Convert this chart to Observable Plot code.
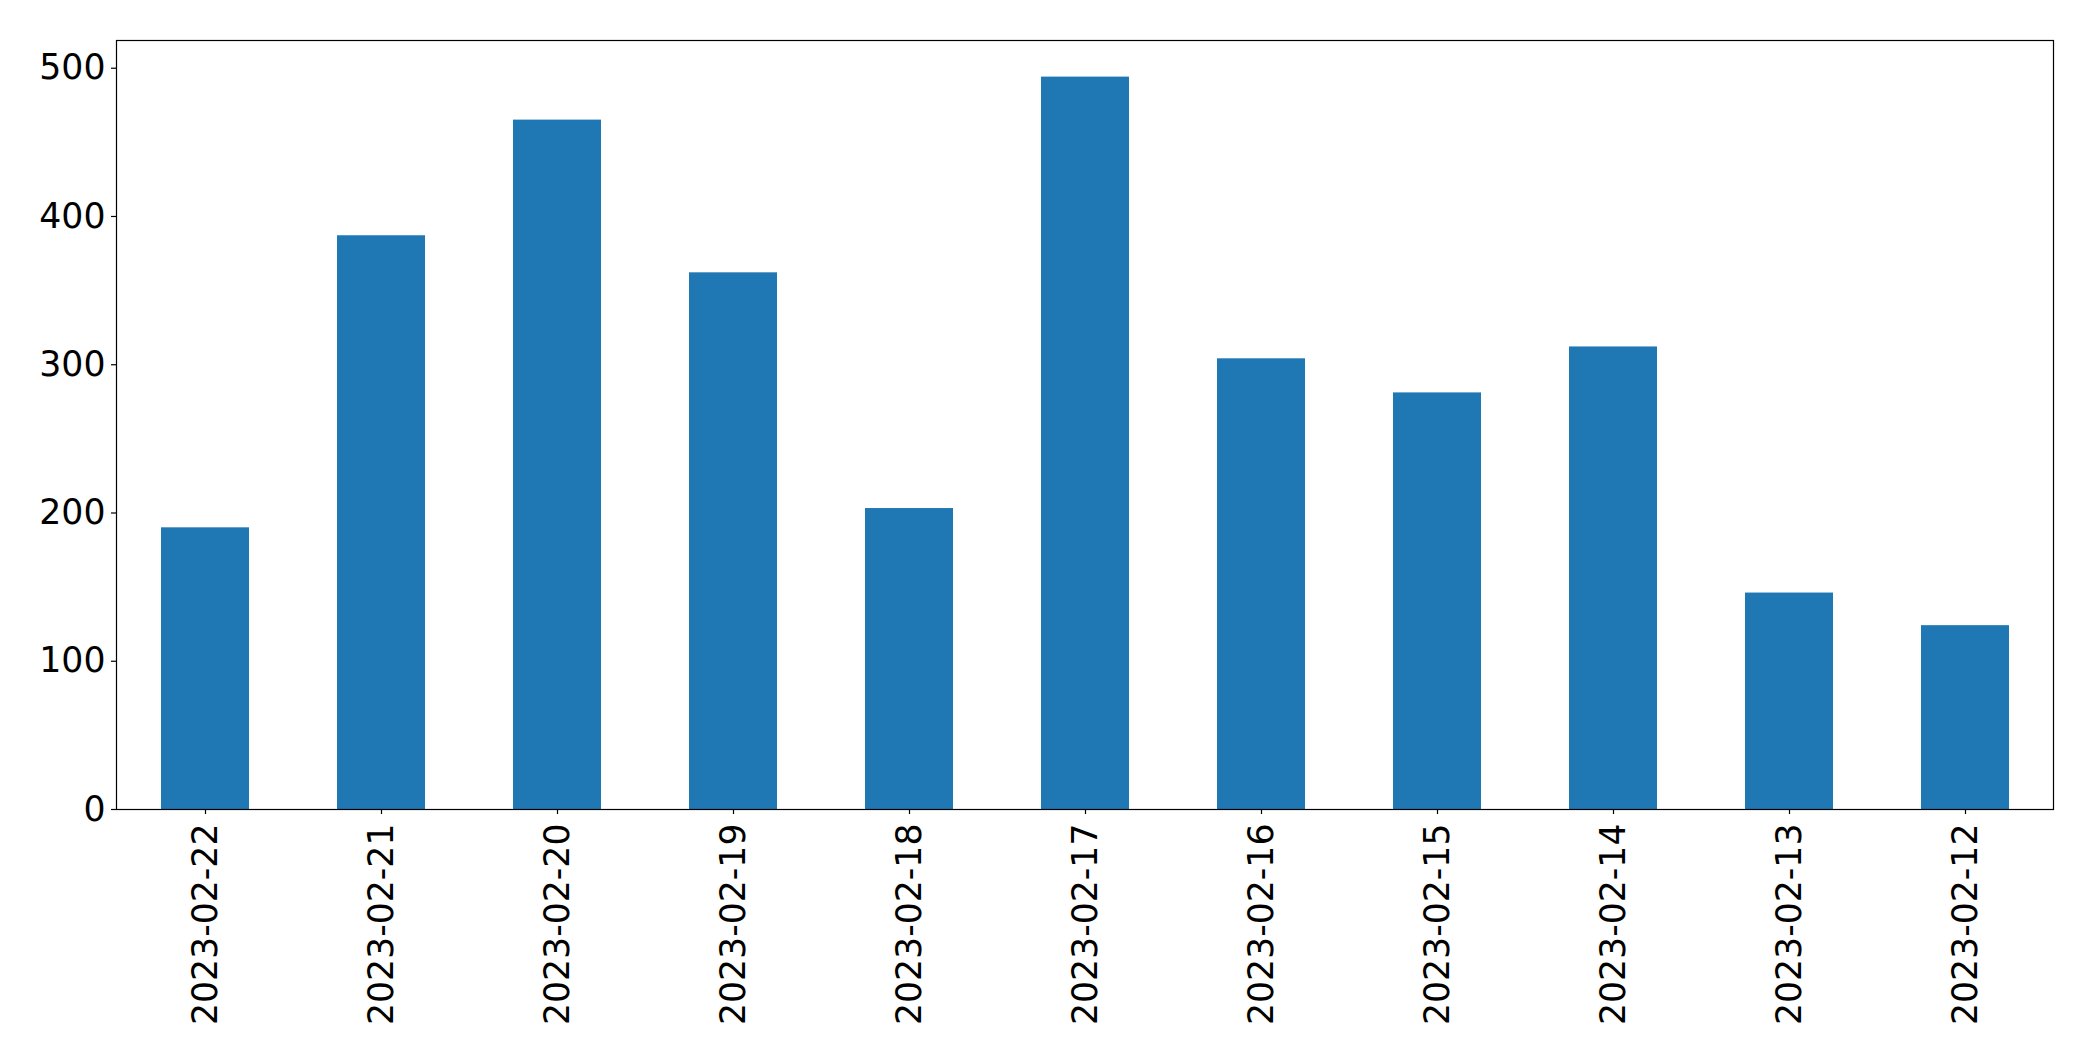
<!DOCTYPE html>
<html>
<head>
<meta charset="utf-8">
<script src="https://cdn.jsdelivr.net/npm/d3@7"></script>
<script src="https://cdn.jsdelivr.net/npm/@observablehq/plot@0.6"></script>
<style>
  html, body { margin: 0; padding: 0; background: #ffffff; }
  #chart svg { display: block; background: #ffffff; }
</style>
</head>
<body>
<div id="chart"></div>
<script>
const dates = ["2023-02-22", "2023-02-21", "2023-02-20", "2023-02-19", "2023-02-18", "2023-02-17", "2023-02-16", "2023-02-15", "2023-02-14", "2023-02-13", "2023-02-12"];
const values = [190, 387, 465, 362, 203, 494, 304, 281, 312, 146, 124];
const yTicks = [0, 100, 200, 300, 400, 500];

const data = dates.map((d, i) => ({date: d, value: values[i]}));
const yMax = d3.max(values) * 1.05;

const chart = Plot.plot({
  width: 2093,
  height: 1061,
  marginLeft: 116,
  marginRight: 40,
  marginTop: 40,
  marginBottom: 252,
  style: {fontFamily: "DejaVu Sans", fontSize: "34.7px", color: "#000000", background: "#ffffff"},
  x: {type: "band", domain: dates, paddingInner: 0.5, paddingOuter: 0.25, align: 0.5, label: null},
  y: {domain: [0, yMax], label: null},
  marks: [
    Plot.barY(data, {x: "date", y: "value", fill: "#1f77b4"}),
    Plot.axisX({ticks: dates, tickSize: 5, tickPadding: 9, tickRotate: -90, label: null, stroke: "#000", strokeWidth: 1.2, strokeOpacity: 1}),
    Plot.axisY({ticks: yTicks, tickSize: 5, tickPadding: 6, label: null, tickFormat: d => String(d), stroke: "#000", strokeWidth: 1.2, strokeOpacity: 1}),
    Plot.frame({stroke: "#000", strokeWidth: 1.2})
  ]
});
document.getElementById("chart").appendChild(chart);
</script>
</body>
</html>
